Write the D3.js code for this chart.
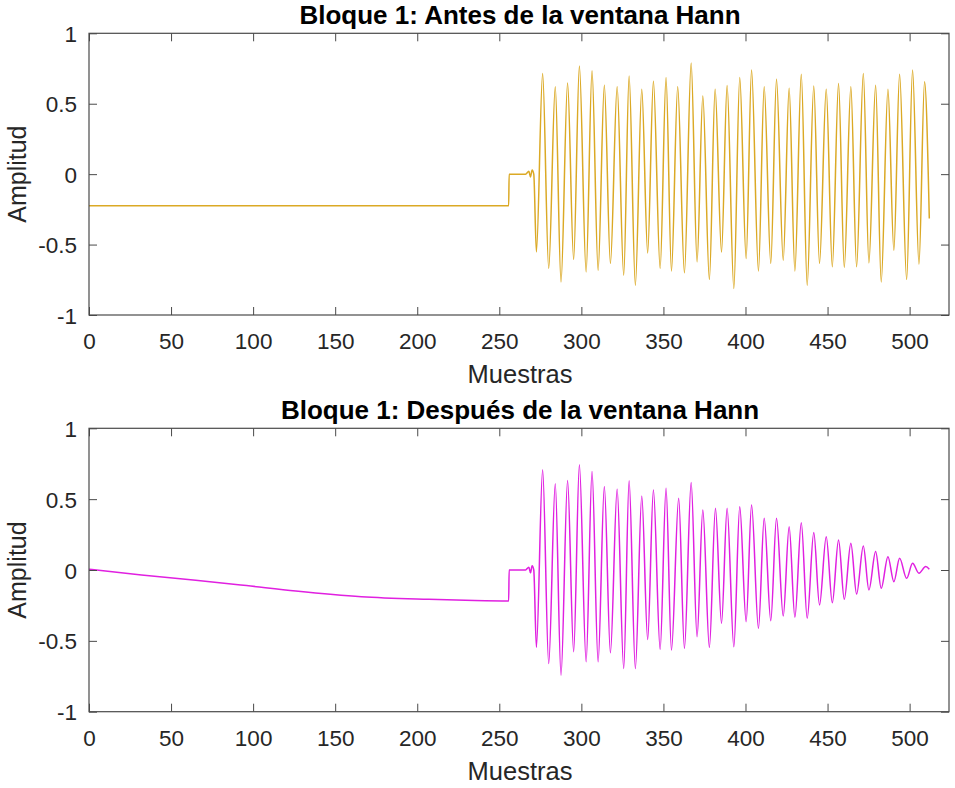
<!DOCTYPE html>
<html>
<head>
<meta charset="utf-8">
<script src="https://cdn.jsdelivr.net/npm/d3@7"></script>
<style>
  html, body { margin: 0; padding: 0; background: #fff; }
  svg { display: block; }
  text { font-family: "Liberation Sans", Arial, Helvetica, sans-serif; }
</style>
</head>
<body>
<svg id="chart" width="955" height="788"></svg>
<script>
// Block 1 of the signal, before the Hann window: sample index / amplitude vertices
const beforeSamples = [
  0, 255.7, 256, 266, 268, 269, 270, 271,
  272.6, 276.4, 280.1, 284.1, 287.6, 291.6, 295.3, 298.8, 302.9, 306.5,
  310.2, 314.0, 317.7, 321.8, 325.8, 329.1, 332.9, 336.8, 340.4, 343.9,
  348.0, 351.6, 354.9, 358.7, 362.8, 366.9, 370.5, 374.0, 378.0, 381.5,
  385.4, 388.8, 392.9, 396.5, 400.4, 403.7, 407.9, 411.4, 415.4, 418.9,
  423.0, 426.6, 430.1, 434.0, 437.6, 441.6, 445.1, 449.2, 452.9, 456.7,
  460.2, 464.2, 467.7, 471.8, 475.2, 479.3, 482.7, 486.8, 490.4, 493.9,
  498.2, 501.8, 505.7, 509.1, 512
];
const beforeValues = [
  -0.225, -0.225, 0.0, 0.0, 0.02, -0.02, 0.03, 0.0,
  -0.552, 0.715, -0.67, 0.62, -0.765, 0.648, -0.606, 0.767, -0.694, 0.734,
  -0.682, 0.632, -0.634, 0.62, -0.717, 0.696, -0.788, 0.602, -0.559, 0.66,
  -0.67, 0.687, -0.687, 0.62, -0.70, 0.79, -0.623, 0.554, -0.748, 0.602,
  -0.552, 0.63, -0.812, 0.687, -0.599, 0.739, -0.687, 0.62, -0.634, 0.673,
  -0.611, 0.609, -0.687, 0.71, -0.788, 0.625, -0.634, 0.602, -0.658, 0.644,
  -0.663, 0.62, -0.658, 0.715, -0.63, 0.632, -0.765, 0.602, -0.54, 0.71,
  -0.748, 0.739, -0.639, 0.656, -0.315
];

// Block 1 after the Hann window
const afterSamples = [
  0, 32, 65, 96, 126, 166, 207, 235, 255.7, 256, 266, 268, 269, 270, 271,
  272.6, 276.4, 280.1, 284.1, 287.6, 291.6, 295.3, 298.8, 302.9, 306.5,
  310.2, 314.0, 317.7, 321.8, 325.8, 329.1, 332.9, 336.8, 340.4, 343.9,
  348.0, 351.6, 354.9, 359.3, 362.8, 366.9, 370.5, 374.0, 378.0, 381.7,
  385.4, 388.8, 392.9, 396.5, 400.4, 403.7, 407.9, 411.4, 415.4, 418.9,
  423.0, 426.6, 430.1, 434.0, 437.6, 441.6, 445.1, 449.2, 452.9, 456.7,
  460.2, 464.2, 467.7, 471.8, 475.2, 479.3, 482.7, 486.8, 490.4, 493.9,
  498.2, 501.8, 505.7, 509.8, 512
];
const afterValues = [
  0.005, -0.035, -0.072, -0.11, -0.148, -0.188, -0.207, -0.216, -0.219, 0.0, 0.0, 0.02, -0.02, 0.03, 0.0,
  -0.546, 0.707, -0.66, 0.608, -0.742, 0.631, -0.577, 0.742, -0.648, 0.695,
  -0.648, 0.589, -0.584, 0.57, -0.695, 0.629, -0.695, 0.523, -0.49, 0.565,
  -0.56, 0.577, -0.565, 0.507, -0.553, 0.617, -0.471, 0.424, -0.546, 0.436,
  -0.377, 0.436, -0.542, 0.447, -0.365, 0.459, -0.412, 0.365, -0.358, 0.365,
  -0.325, 0.306, -0.334, 0.334, -0.341, 0.264, -0.247, 0.235, -0.231, 0.212,
  -0.207, 0.189, -0.17, 0.17, -0.141, 0.13, -0.129, 0.094, -0.083, 0.083,
  -0.059, 0.047, -0.023, 0.024, 0.005
];

const xTicks = [0, 50, 100, 150, 200, 250, 300, 350, 400, 450, 500];
const yTicks = [-1, -0.5, 0, 0.5, 1];
const xDomain = [0, 524];
const yDomain = [-1, 1];

const panels = [
  { title: "Bloque 1: Antes de la ventana Hann", xs: beforeSamples, ys: beforeValues,
    color: "#dba925", top: 33.3, bottom: 315 },
  { title: "Bloque 1: Después de la ventana Hann", xs: afterSamples, ys: afterValues,
    color: "#e020e0", top: 428.3, bottom: 711.7 }
];

const svg = d3.select("#chart");
const left = 89, right = 949;
const axisColor = "#4a4a4a";
const textColor = "#262626";
const tickLen = 8;

const fmt = v => (v === 0 ? "0" : String(v));

panels.forEach(p => {
  const x = d3.scaleLinear().domain(xDomain).range([left, right]);
  const y = d3.scaleLinear().domain(yDomain).range([p.bottom, p.top]);
  const g = svg.append("g");

  // data line
  const pts = p.xs.map((s, i) => [s, p.ys[i]]);
  const line = d3.line().x(d => x(d[0])).y(d => y(d[1])).curve(d3.curveMonotoneX);
  g.append("path").datum(pts)
    .attr("d", line)
    .attr("fill", "none")
    .attr("stroke", p.color)
    .attr("stroke-width", 1.5)
    .attr("stroke-linejoin", "round");

  // axes: bottom / left with labels, top / right mirrored ticks only
  const xb = d3.axisBottom(x).tickValues(xTicks).tickSizeInner(-tickLen).tickSizeOuter(0).tickPadding(18).tickFormat(fmt);
  const xt = d3.axisTop(x).tickValues(xTicks).tickSizeInner(-tickLen).tickSizeOuter(0).tickFormat("");
  const yl = d3.axisLeft(y).tickValues(yTicks).tickSizeInner(-tickLen).tickSizeOuter(0).tickPadding(12).tickFormat(fmt);
  const yr = d3.axisRight(y).tickValues(yTicks).tickSizeInner(-tickLen).tickSizeOuter(0).tickFormat("");

  const styleAxis = sel => {
    sel.select(".domain").remove();
    sel.selectAll(".tick line").attr("stroke", axisColor).attr("stroke-width", 1);
    sel.selectAll(".tick text").attr("fill", textColor).style("font-size", "22.5px")
      .style("font-family", '"Liberation Sans", Arial, sans-serif');
  };
  g.append("g").attr("transform", `translate(0,${p.bottom})`).call(xb).call(styleAxis)
    .selectAll(".tick text").attr("dy", "0.71em");
  g.append("g").attr("transform", `translate(0,${p.top})`).call(xt).call(styleAxis);
  g.append("g").attr("transform", `translate(${left},0)`).call(yl).call(styleAxis)
    .selectAll(".tick text").attr("dy", "0.36em");
  g.append("g").attr("transform", `translate(${right},0)`).call(yr).call(styleAxis);

  // box
  g.append("rect")
    .attr("x", left).attr("y", p.top)
    .attr("width", right - left).attr("height", p.bottom - p.top)
    .attr("fill", "none").attr("stroke", axisColor).attr("stroke-width", 1.2);

  // title
  g.append("text")
    .attr("x", (left + right) / 2 + 1).attr("y", p.top - 9)
    .attr("text-anchor", "middle")
    .attr("fill", "#000")
    .style("font-size", "26px").style("font-weight", "bold")
    .text(p.title);

  // x label
  g.append("text")
    .attr("x", (left + right) / 2 + 1).attr("y", p.bottom + 68)
    .attr("text-anchor", "middle")
    .attr("fill", textColor)
    .style("font-size", "25.5px")
    .text("Muestras");

  // y label
  g.append("text")
    .attr("transform", `translate(26,${(p.top + p.bottom) / 2}) rotate(-90)`)
    .attr("text-anchor", "middle")
    .attr("fill", textColor)
    .style("font-size", "25px")
    .text("Amplitud");
});
</script>
</body>
</html>
